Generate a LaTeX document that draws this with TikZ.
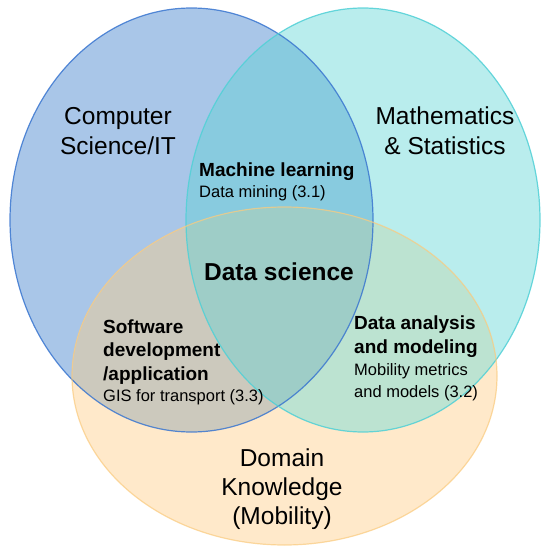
\documentclass[tikz,border=0pt]{standalone}
\usepackage{fontspec}
\setmainfont{Liberation Sans}
\usepackage{tikz}

% set colours
\definecolor{blueFill}{RGB}{169,198,232}
\definecolor{cyanFill}{RGB}{185,237,237}
\definecolor{orangeFill}{RGB}{255,233,202}
\definecolor{blueCyan}{RGB}{136,203,223}
\definecolor{blueOrange}{RGB}{204,201,189}
\definecolor{cyanOrange}{RGB}{188,227,209}
\definecolor{allThree}{RGB}{158,205,199}
\definecolor{blueLine}{RGB}{58,118,208}
\definecolor{cyanLine}{RGB}{80,208,214}
\definecolor{orangeLine}{RGB}{250,202,125}

% the three sets
\def\csSet{(191.5,220) ellipse [x radius=181.5pt, y radius=212pt]}
\def\mathSet{(363,220) ellipse [x radius=177pt, y radius=212pt]}
\def\domSet{(284.5,376) ellipse [x radius=212.5pt, y radius=169pt]}

\begin{document}
\begin{tikzpicture}[x=1pt, y=-1pt,
	bigLabel/.style={font=\fontsize{24.5}{29}\selectfont, align=center, inner sep=0, anchor=base},
	headLabel/.style={font=\fontsize{19}{23.5}\selectfont\bfseries, align=left, inner sep=0, anchor=base west},
	subLabel/.style={font=\fontsize{16.5}{22}\selectfont, align=left, inner sep=0, anchor=base west}]
	\useasboundingbox (0,0) rectangle (541,548);

% draw set colours
	\fill[blueFill] \csSet;
	\fill[cyanFill] \mathSet;
	\fill[orangeFill] \domSet;

% overlap colours
	\begin{scope}
		\clip \csSet;
		\fill[blueCyan] \mathSet;
		\fill[blueOrange] \domSet;
		\clip \mathSet;
		\fill[allThree] \domSet;
	\end{scope}
	\begin{scope}
		\clip \mathSet;
		\clip \domSet;
		\fill[cyanOrange] \mathSet;
		\clip \csSet;
		\fill[allThree] \domSet;
	\end{scope}

% draw outlines
	\draw[blueLine, line width=1.2pt, opacity=.85] \csSet;
	\draw[cyanLine, line width=1.2pt, opacity=.85] \mathSet;
	\draw[orangeLine, line width=1.2pt, opacity=.7] \domSet;

% set labels (base = last line)
	\node[bigLabel] (cs) at (118,154) {Computer\\Science/IT};
	\node[bigLabel] (math) at (445,154) {Mathematics\\\& Statistics};
	\node[bigLabel] (dom) at (282,524) {Domain\\Knowledge\\(Mobility)};

% overlap labels
	\node[headLabel] (ml) at (199,176) {Machine learning};
	\node[subLabel] (mlsub) at (199,197) {Data mining (3.1)};

	\node[headLabel, font=\fontsize{24.5}{28}\selectfont\bfseries, anchor=base] (ds) at (279,280) {Data science};

	\node[headLabel] (sw) at (103,380) {Software\\development\\/application};
	\node[subLabel] (swsub) at (103,401) {GIS for transport (3.3)};

	\node[headLabel] (da) at (354,353) {Data analysis\\and modeling};
	\node[subLabel] (dasub) at (354,397) {Mobility metrics\\and models (3.2)};
\end{tikzpicture}
\end{document}
